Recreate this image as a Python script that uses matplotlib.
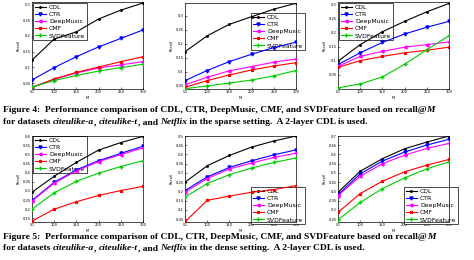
import matplotlib
matplotlib.use("Agg")
import matplotlib.pyplot as plt

# data
M = [50, 100, 150, 200, 250, 300]
methods = ["CDL", "CTR", "DeepMusic", "CMF", "SVDFeature"]

# Figure 4 (sparse)
a_sparse = {
    "CDL":        [0.123, 0.19, 0.213, 0.254, 0.282, 0.305],
    "CTR":        [0.06, 0.099, 0.134, 0.165, 0.192, 0.219],
    "DeepMusic":  [0.036, 0.062, 0.082, 0.098, 0.108, 0.118],
    "CMF":        [0.036, 0.063, 0.084, 0.101, 0.118, 0.134],
    "SVDFeature": [0.037, 0.058, 0.074, 0.088, 0.099, 0.11],
}
t_sparse = {
    "CDL":        [0.172, 0.229, 0.27, 0.297, 0.324, 0.345],
    "CTR":        [0.069, 0.105, 0.137, 0.163, 0.187, 0.206],
    "DeepMusic":  [0.054, 0.081, 0.104, 0.119, 0.135, 0.146],
    "CMF":        [0.045, 0.069, 0.089, 0.107, 0.121, 0.133],
    "SVDFeature": [0.04, 0.05, 0.06, 0.071, 0.086, 0.105],
}
n_sparse = {
    "CDL":        [0.099, 0.158, 0.204, 0.241, 0.275, 0.305],
    "CTR":        [0.087, 0.129, 0.166, 0.196, 0.22, 0.241],
    "DeepMusic":  [0.081, 0.116, 0.134, 0.149, 0.158, 0.168],
    "CMF":        [0.077, 0.101, 0.116, 0.129, 0.138, 0.149],
    "SVDFeature": [0.004, 0.018, 0.043, 0.088, 0.14, 0.19],
}
# Figure 5 (dense)
a_dense = {
    "CDL":        [0.293, 0.38, 0.456, 0.523, 0.564, 0.598],
    "CTR":        [0.248, 0.347, 0.415, 0.465, 0.505, 0.544],
    "DeepMusic":  [0.245, 0.342, 0.41, 0.46, 0.498, 0.535],
    "CMF":        [0.135, 0.2, 0.241, 0.275, 0.302, 0.325],
    "SVDFeature": [0.2, 0.29, 0.352, 0.397, 0.433, 0.465],
}
t_dense = {
    "CDL":        [0.25, 0.339, 0.395, 0.44, 0.473, 0.5],
    "CTR":        [0.205, 0.279, 0.33, 0.366, 0.398, 0.425],
    "DeepMusic":  [0.196, 0.27, 0.322, 0.354, 0.384, 0.407],
    "CMF":        [0.036, 0.152, 0.175, 0.196, 0.21, 0.232],
    "SVDFeature": [0.17, 0.243, 0.291, 0.327, 0.357, 0.381],
}
n_dense = {
    "CDL":        [0.395, 0.509, 0.577, 0.631, 0.667, 0.7],
    "CTR":        [0.382, 0.495, 0.564, 0.613, 0.651, 0.682],
    "DeepMusic":  [0.377, 0.482, 0.55, 0.596, 0.633, 0.66],
    "CMF":        [0.286, 0.388, 0.455, 0.506, 0.542, 0.573],
    "SVDFeature": [0.246, 0.34, 0.415, 0.473, 0.522, 0.56],
}

colors = {"CDL": "k", "CTR": "#0000ff", "DeepMusic": "#ff00ff", "CMF": "#ff0000", "SVDFeature": "#00cc00"}
markers = {"CDL": ".", "CTR": "v", "DeepMusic": "<", "CMF": "*", "SVDFeature": "+"}

fig = plt.figure(figsize=(4.74, 2.6), dpi=100)

lefts = [32, 185, 338]
W = 111
panels = [
    # data, top px, bottom px, ylim, ticks, legend box (x0, y0 px)
    (a_sparse, 2, 89, (0.031, 0.308), [0.05, 0.1, 0.15, 0.2, 0.25, 0.3], (33, 3)),
    (t_sparse, 3, 89, (0.039, 0.346), [0.05, 0.1, 0.15, 0.2, 0.25, 0.3], (251, 13)),
    (n_sparse, 2, 89, (0.0, 0.31), [0.05, 0.1, 0.15, 0.2, 0.25, 0.3], (339, 3)),
    (a_dense, 136, 222, (0.13, 0.6), [0.15, 0.2, 0.25, 0.3, 0.35, 0.4, 0.45, 0.5, 0.55, 0.6], (33, 136)),
    (t_dense, 136, 222, (0.035, 0.5), [0.05, 0.1, 0.15, 0.2, 0.25, 0.3, 0.35, 0.4, 0.45, 0.5], (251, 187)),
    (n_dense, 136, 222, (0.234, 0.7), [0.25, 0.3, 0.35, 0.4, 0.45, 0.5, 0.55, 0.6, 0.65, 0.7], (404, 187)),
]

FW, FH = 474.0, 260.0
for i, (data, top, bot, yl, yt, lg) in enumerate(panels):
    x0 = lefts[i % 3]
    ax = fig.add_axes([x0 / FW, 1 - bot / FH, W / FW, (bot - top) / FH])
    for m in methods:
        ax.plot(M, data[m], color=colors[m], marker=markers[m], lw=0.8, ms=2.2,
                label=m, zorder=3)
    ax.set_xlim(50, 300)
    ax.set_ylim(*yl)
    ax.set_xticks(M)
    ax.set_yticks(yt)
    ax.set_yticklabels([("%g" % v) for v in yt])
    ax.tick_params(labelsize=2.6, length=1.2, width=0.4, pad=1, direction="in")
    ax.set_xlabel("M", fontsize=2.6, labelpad=1)
    ax.set_ylabel("Recall", fontsize=2.6, labelpad=1.5)
    for s in ax.spines.values():
        s.set_linewidth(0.5)
    lx, ly = lg
    leg = ax.legend(loc="upper left",
                    bbox_to_anchor=(lx / FW, 1 - ly / FH),
                    bbox_transform=fig.transFigure,
                    fontsize=4.4, handlelength=1.8, handletextpad=0.5,
                    labelspacing=0.3, borderpad=0.3, borderaxespad=0,
                    fancybox=False, edgecolor="k", framealpha=1)
    leg.get_frame().set_linewidth(0.5)
    leg.set_zorder(2)

# captions with mixed bold / bold italic pieces
renderer = fig.canvas.get_renderer()

def rich_line(x, y, pieces, size=6.8):
    for txt, style in pieces:
        t = fig.text(x, y, txt, fontsize=size, family="Liberation Serif",
                     fontweight="bold", fontstyle=style, va="baseline")
        x += t.get_window_extent(renderer=renderer).width / FW

def caption(num, setting, y1, y2):
    rich_line(3 / FW, 1 - y1 / FH, [
        ("Figure %d:  Performance comparison of CDL, CTR, DeepMusic, CMF, and SVDFeature based on recall@" % num, "normal"),
        ("M", "italic")])
    rich_line(3 / FW, 1 - y2 / FH, [
        ("for datasets ", "normal"), ("citeulike-a", "italic"), (", ", "normal"),
        ("citeulike-t", "italic"), (", and ", "normal"), ("Netflix", "italic"),
        (" in the %s setting.  A 2-layer CDL is used." % setting, "normal")])

caption(4, "sparse", 112, 124)
caption(5, "dense", 239, 250)

fig.savefig("out.png", dpi=100)
